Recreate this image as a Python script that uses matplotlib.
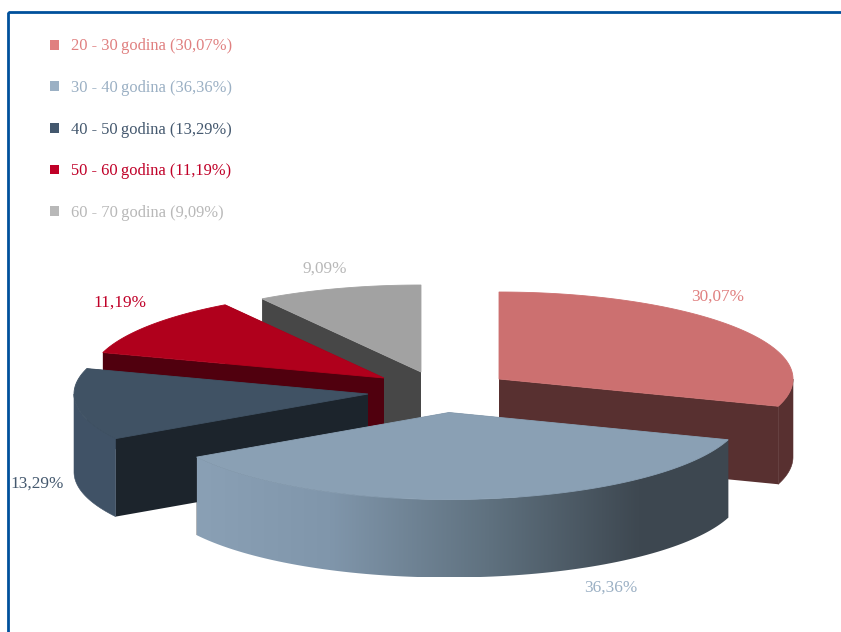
import numpy as np
import matplotlib
matplotlib.use("Agg")
import matplotlib.pyplot as plt
from matplotlib.patches import Polygon, Rectangle, Patch
from matplotlib.colors import LinearSegmentedColormap

# ---- data ----
age_groups = ["20 - 30\u2009godina", "30 - 40\u2009godina", "40 - 50\u2009godina", "50 - 60\u2009godina", "60 - 70\u2009godina"]
shares = [30.07, 36.36, 13.29, 11.19, 9.09]

# ---- styles ----
label_colors = ["#e08080", "#9bb0c4", "#44586e", "#c00028", "#b8b8b8"]
top_colors = ["#cc7070", "#8aa0b4", "#405264", "#b0001c", "#a2a2a2"]
wall_colors = ["#583030", "#3d4750", "#1c242c", "#50000e", "#474747"]
rim_colors = ["#583030", None, "#405266", "#50000e", "#474747"]
apexes = [(499, 379), (449, 412.5), (368, 394), (384, 378), (421, 372)]
value_label_pos = [(718, 297), (611, 588), (37, 484), (120, 303), (325, 269)]
draw_order = [4, 3, 2, 0, 1]
RX, RY, DEPTH = 294, 87, 78

plt.rcParams["font.family"] = ["Liberation Serif", "DejaVu Serif"]
fig = plt.figure(figsize=(8.41, 6.32), dpi=100)
ax = fig.add_axes([0, 0, 1, 1])
ax.set_axis_off()


def rim(apex, a0, a1, n=90):
    t = np.radians(np.linspace(a0, a1, n))
    return np.column_stack([apex[0] + RX * np.sin(t), apex[1] - RY * np.cos(t)])


def radial_wall(apex, a):
    p = rim(apex, a, a, 1)[0]
    return [apex, tuple(p), (p[0], p[1] + DEPTH), (apex[0], apex[1] + DEPTH)]


def outer_wall(apex, a0, a1):
    lo, hi = max(a0, 90), min(a1, 270)
    if hi <= lo:
        return None
    arc = rim(apex, lo, hi)
    return np.vstack([arc, (arc + [0, DEPTH])[::-1]])


edges = np.concatenate([[0], np.cumsum(shares)]) / sum(shares) * 360
gradient_cmap = LinearSegmentedColormap.from_list(
    "wall", [(0, "#8aa0b5"), (0.25, "#8096ab"), (0.55, "#5f717f"), (0.83, "#3e4851"), (1, "#3d4750")])

for i in draw_order:
    a0, a1 = edges[i], edges[i + 1]
    apex = apexes[i]
    z = 1 + draw_order.index(i)
    for a in (a0, a1):
        ax.add_patch(Polygon(radial_wall(apex, a), fc=wall_colors[i], ec="none", zorder=z))
    wall = outer_wall(apex, a0, a1)
    if wall is not None:
        if rim_colors[i] is None:
            patch = Polygon(wall, fc="none", ec="none", zorder=z)
            ax.add_patch(patch)
            im = ax.imshow(np.linspace(0, 1, 256)[None, :], cmap=gradient_cmap, aspect="auto",
                           extent=(wall[:, 0].min(), wall[:, 0].max(), wall[:, 1].max(), wall[:, 1].min()),
                           zorder=z, interpolation="bilinear")
            im.set_clip_path(patch)
        else:
            ax.add_patch(Polygon(wall, fc=rim_colors[i], ec=rim_colors[i], lw=0.4, zorder=z))
    top = np.vstack([[apex], rim(apex, a0, a1)])
    ax.add_patch(Polygon(top, fc=top_colors[i], ec=top_colors[i], lw=0.6, zorder=z))

for pos, v, c in zip(value_label_pos, shares, label_colors):
    ax.text(pos[0], pos[1], f"{v:.2f}%".replace(".", ","), color=c, fontsize=12.4,
            ha="center", va="center", zorder=20)

ax.add_patch(Rectangle((8, 11.5), 1000, 1000, fc="none", ec="#00509c", lw=2, zorder=30))

ax.set_xlim(0, 841)
ax.set_ylim(632, 0)

handles = [Patch(fc=c, ec="none") for c in label_colors]
labels = [f"{g} ({v:.2f}%)".replace(".", ",") for g, v in zip(age_groups, shares)]
ax.legend(handles, labels, labelcolor=label_colors, frameon=False, prop={"size": 11.9},
          loc="upper left", bbox_to_anchor=(50.5, 38.5), bbox_transform=ax.transData,
          borderpad=0, borderaxespad=0, labelspacing=1.55, handlelength=0.54, handleheight=0.54,
          handletextpad=0.68)

fig.savefig("out.png", dpi=100)
